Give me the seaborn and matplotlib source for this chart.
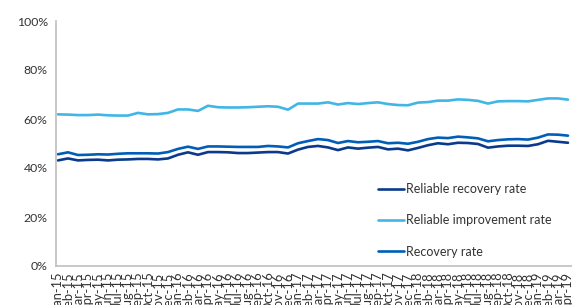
import pandas as pd
import matplotlib.pyplot as plt
import seaborn as sns

# Monthly rates (%), Jan-15 .. Apr-19
months = pd.date_range("2015-01-01", periods=52, freq="MS").strftime("%b-%y").tolist()

reliable_recovery = [
    43.1, 43.9, 43.1, 43.3, 43.4, 43.1, 43.4, 43.5, 43.7, 43.7, 43.5, 43.9, 45.4,
    46.4, 45.4, 46.5, 46.5, 46.4, 46.1, 46.1, 46.3, 46.5, 46.5, 45.9, 47.5, 48.6,
    49.0, 48.4, 47.3, 48.4, 47.9, 48.3, 48.6, 47.6, 47.9, 47.2, 48.2, 49.3, 50.1,
    49.7, 50.3, 50.2, 49.8, 48.3, 48.8, 49.1, 49.1, 49.0, 49.7, 51.1, 50.7, 50.3,
]
reliable_improvement = [
    61.9, 61.8, 61.6, 61.6, 61.8, 61.5, 61.4, 61.4, 62.5, 61.9, 62.0, 62.5, 63.9,
    63.9, 63.3, 65.4, 64.8, 64.7, 64.7, 64.8, 65.0, 65.2, 65.0, 63.8, 66.3, 66.3,
    66.3, 66.8, 65.9, 66.5, 66.1, 66.5, 66.8, 66.1, 65.7, 65.6, 66.7, 66.9, 67.5,
    67.5, 68.0, 67.8, 67.4, 66.3, 67.2, 67.3, 67.3, 67.2, 67.8, 68.4, 68.4, 67.9,
]
recovery = [
    45.6, 46.4, 45.3, 45.4, 45.6, 45.5, 45.8, 46.0, 46.0, 46.0, 45.9, 46.5, 47.8,
    48.7, 47.8, 48.8, 48.8, 48.7, 48.6, 48.6, 48.6, 49.0, 48.8, 48.4, 50.1, 51.0,
    51.8, 51.4, 50.2, 51.0, 50.5, 50.7, 51.0, 50.1, 50.3, 49.9, 50.7, 51.8, 52.4,
    52.2, 52.8, 52.5, 52.1, 50.9, 51.4, 51.7, 51.8, 51.6, 52.4, 53.7, 53.6, 53.2,
]

series = {
    "Reliable recovery rate": reliable_recovery,
    "Reliable improvement rate": reliable_improvement,
    "Recovery rate": recovery,
}
palette = {
    "Reliable recovery rate": "#0B3A8C",
    "Reliable improvement rate": "#41B6E6",
    "Recovery rate": "#005EB8",
}

df = pd.concat(
    [pd.DataFrame({"idx": range(len(months)), "rate": v, "series": k}) for k, v in series.items()]
)

sns.set_theme(style="white")
plt.rcParams["font.family"] = ["Lato", "DejaVu Sans"]

fig = plt.figure(figsize=(5.72, 3.05), dpi=100)
ax = fig.add_axes([56 / 572, 39 / 305, 1 - 56 / 572, 245 / 305])

sns.lineplot(data=df, x="idx", y="rate", hue="series", palette=palette,
             linewidth=1.9, ax=ax, legend=False)

ax.set_xlim(-0.2, 51.4)
ax.set_ylim(0, 100)
ax.set_yticks(range(0, 101, 20))
ax.set_yticklabels([f"{v}%" for v in range(0, 101, 20)], fontsize=8.8, color="#333333")
ax.set_xticks(range(len(months)))
# the month labels run off the bottom edge, as in the original
ax.set_xticklabels(months, rotation=90, fontsize=9.3, color="#333333", va="top")
ax.set_xlabel("")
ax.set_ylabel("")

for side in ["top", "right"]:
    ax.spines[side].set_visible(False)
for side in ["left", "bottom"]:
    ax.spines[side].set_color("#BFBFBF")
    ax.spines[side].set_linewidth(1.2)
ax.tick_params(axis="both", direction="out", length=4, width=0.8, color="#BFBFBF", pad=2)
ax.tick_params(axis="x", length=3, pad=1)

handles = [plt.Line2D([], [], color=palette[k], linewidth=1.9) for k in series]
fig.legend(handles, list(series), loc="upper left", bbox_to_anchor=(378 / 572, 1 - 183 / 305),
           frameon=False, fontsize=9, handlelength=2.1, handletextpad=0.15,
           labelspacing=1.55, borderpad=0, borderaxespad=0, labelcolor="#333333")

fig.savefig("out.png", dpi=100)
